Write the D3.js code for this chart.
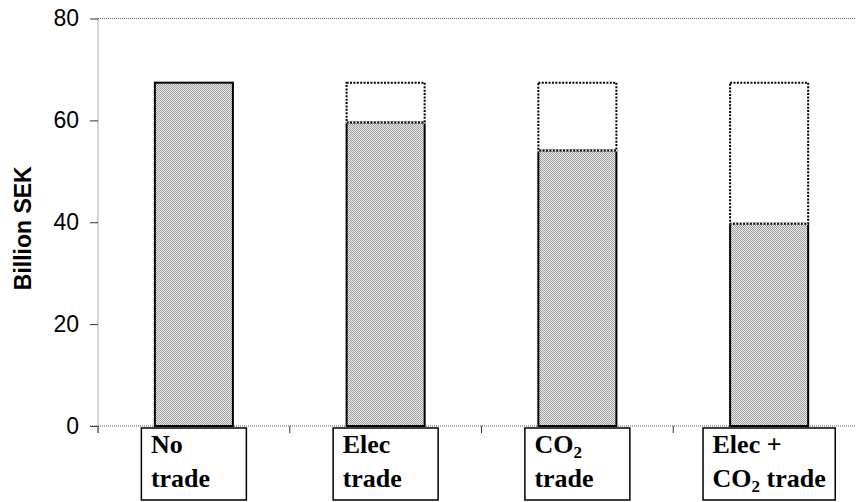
<!DOCTYPE html>
<html>
<head>
<meta charset="utf-8">
<script src="https://cdn.jsdelivr.net/npm/d3@7"></script>
<style>
  html, body { margin: 0; padding: 0; background: #fff; }
  svg { display: block; }
</style>
</head>
<body>
<svg id="chart" width="856" height="502"></svg>
<script>
// ---- data ----
const categories = ["No trade", "Elec trade", "CO2 trade", "Elec + CO2 trade"];
const labelLines = [["No", "trade"], ["Elec", "trade"], ["CO|2", "trade"], ["Elec +", "CO|2 trade"]];
const costValues = [67.4, 59.6, 54.1, 39.7];
const referenceValue = [67.4, 67.4, 67.4, 67.4];
const yTicks = [0, 20, 40, 60, 80];
const yLabel = "Billion SEK";

// ---- layout ----
const W = 856, H = 502;
const x0 = 98, x1 = 865, yTop = 18.5, yBot = 426;
const svg = d3.select("#chart");

const x = d3.scaleBand().domain(categories).range([x0, x1]).paddingInner(0.593).paddingOuter(0.2965);
const y = d3.scaleLinear().domain([0, 80]).range([yBot, yTop]);

// pattern fill
const defs = svg.append("defs");
const pat = defs.append("pattern").attr("id", "dither").attr("width", 2).attr("height", 2)
  .attr("patternUnits", "userSpaceOnUse");
pat.append("rect").attr("width", 2).attr("height", 2).attr("fill", "#e8e8e8");
pat.append("rect").attr("x", 0).attr("y", 0).attr("width", 1).attr("height", 1).attr("fill", "#a2a2a2");
pat.append("rect").attr("x", 1).attr("y", 1).attr("width", 1).attr("height", 1).attr("fill", "#a2a2a2");

// top border line
svg.append("line").attr("x1", x0).attr("x2", W).attr("y1", yTop).attr("y2", yTop)
  .attr("stroke", "#666").attr("stroke-width", 1).attr("stroke-dasharray", "1,1");

// y axis
const yAxis = d3.axisLeft(y).tickValues(yTicks).tickSize(8).tickPadding(11).tickFormat(d3.format("d"));
const gy = svg.append("g").attr("transform", `translate(${x0},0)`).call(yAxis);
gy.select(".domain").attr("stroke", "#555").attr("stroke-dasharray", "1,1")
  .attr("d", `M0,${yTop}V${yBot + 7}`);
gy.selectAll(".tick line").attr("stroke", "#333");
gy.selectAll(".tick text").attr("font-family", "'Liberation Sans', Arial, sans-serif")
  .attr("font-size", 23).attr("fill", "#000");

// y label
svg.append("text")
  .attr("transform", `translate(31,${(yTop + yBot) / 2 + 6}) rotate(-90)`)
  .attr("text-anchor", "middle")
  .attr("font-family", "'Liberation Sans', Arial, sans-serif")
  .attr("font-weight", "bold").attr("font-size", 23).text(yLabel);

// x axis
const xTickPos = d3.range(categories.length + 1).map(i => x0 + i * x.step());
svg.append("line").attr("x1", x0 - 8).attr("x2", W).attr("y1", yBot).attr("y2", yBot)
  .attr("stroke", "#555").attr("stroke-dasharray", "1,1");
svg.selectAll(".xtick").data(xTickPos).join("line").attr("class", "xtick")
  .attr("x1", d => d).attr("x2", d => d).attr("y1", yBot).attr("y2", yBot + 7)
  .attr("stroke", "#333");

// filled bars
const data = categories.map((c, i) => ({ c, v: costValues[i], r: referenceValue[i] }));
svg.selectAll(".bar").data(data).join("rect").attr("class", "bar")
  .attr("x", d => x(d.c)).attr("width", x.bandwidth())
  .attr("y", d => y(d.v)).attr("height", d => y(0) - y(d.v))
  .attr("fill", "url(#dither)").attr("stroke", "#000").attr("stroke-width", 2);

// dotted reference segments
const refs = data.filter(d => d.r - d.v > 0.01);
svg.selectAll(".refbg").data(refs).join("rect").attr("class", "refbg")
  .attr("x", d => x(d.c)).attr("width", x.bandwidth())
  .attr("y", d => y(d.r)).attr("height", d => y(d.v) - y(d.r))
  .attr("fill", "none").attr("stroke", "#fff").attr("stroke-width", 2);
svg.selectAll(".ref").data(refs).join("rect").attr("class", "ref")
  .attr("x", d => x(d.c)).attr("width", x.bandwidth())
  .attr("y", d => y(d.r)).attr("height", d => y(d.v) - y(d.r))
  .attr("fill", "none").attr("stroke", "#000").attr("stroke-width", 2)
  .attr("stroke-dasharray", "2,1.4");

// category label boxes
const boxTop = 428, boxH = 72, fs = 26;
categories.forEach((c, i) => {
  const g = svg.append("g");
  const rect = g.append("rect").attr("fill", "#fff").attr("stroke", "#000").attr("stroke-width", 1.5);
  const t = g.append("text").attr("font-family", "'Liberation Serif', 'Times New Roman', serif")
    .attr("font-weight", "bold").attr("font-size", fs).attr("fill", "#000");
  labelLines[i].forEach((line, li) => {
    const ts = t.append("tspan").attr("x", 0).attr("y", li * 34);
    const parts = line.split("|");
    ts.text(parts[0]);
    if (parts.length > 1) {
      const rest = parts[1];
      t.append("tspan").attr("font-size", 17).attr("dy", 5).text(rest[0]);
      if (rest.length > 1) t.append("tspan").attr("dy", -5).text(rest.slice(1));
    }
  });
  const bb = t.node().getBBox();
  const bw = Math.max(105, bb.width + 19);
  const cx = x(c) + x.bandwidth() / 2;
  const left = cx - bw / 2;
  rect.attr("x", left).attr("y", boxTop).attr("width", bw).attr("height", boxH);
  t.attr("transform", `translate(${left + 9.5},${boxTop + 25})`);
});
</script>
</body>
</html>
